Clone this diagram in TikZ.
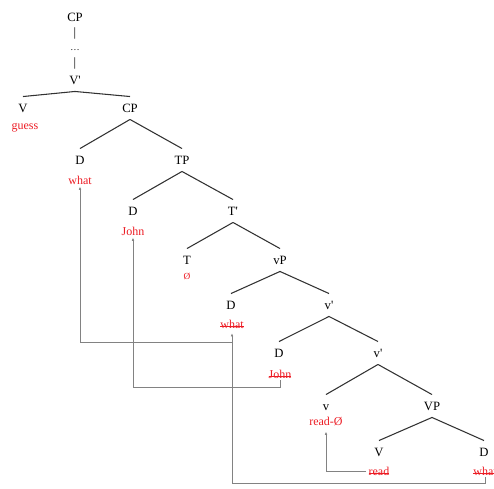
\documentclass[tikz,border=0pt]{standalone}
\usepackage{fontspec}
\setmainfont{Liberation Serif}
\usetikzlibrary{arrows.meta}
\definecolor{wordred}{RGB}{236,28,36}
\definecolor{linegray}{RGB}{50,50,50}
\definecolor{movegray}{RGB}{130,130,130}
\newcommand{\struck}[1]{\setbox0\hbox{#1}\rlap{\raisebox{0.32ex}{\rule{\wd0}{0.5pt}}}\box0}
\tikzstyle{cat}=[inner xsep=1pt,inner ysep=5pt,text height=6.8pt,text depth=0pt,font=\fontsize{9.5}{11}\selectfont]
\tikzstyle{word}=[inner sep=1.5pt,text=wordred,font=\fontsize{9}{11}\selectfont]
\tikzstyle{branch}=[draw,linegray,line width=0.8pt]
\tikzstyle{move}=[draw,movegray,line width=0.6pt,-{Latex[length=2.5pt,width=2pt]}]

\begin{document}
\begin{tikzpicture}[x=0.75pt,y=-0.75pt]
    \useasboundingbox (0,0) rectangle (494,489);
    \foreach \pos/\name/\val in {{(75,17)/cpa/CP},{(75,32)/bara/|},
    {(75,46)/dots/{\scriptsize\ldots}},{(75,62)/barb/|},{(75,80)/vbar/V\textquotesingle},
    {(23,108)/vhead/V},{(130,108)/cpb/CP},{(80,160)/da/D},{(182,160)/tp/TP},
    {(133,211)/db/D},{(233,211)/tbar/T\textquotesingle},{(187,260)/thead/T},{(280,260)/vp/vP},
    {(231,305)/dc/D},{(329,305)/vbara/v\textquotesingle},{(279,353)/dd/D},{(378,353)/vbarb/v\textquotesingle},
    {(326,406)/vlow/v},{(432,406)/vpbig/VP},{(379,452)/vverb/V},{(484,452)/de/D}}
        \node[cat] (\name) at \pos {\val};

    \foreach \pos/\name/\val in {{(25,128)/guess/guess},{(80,180)/whata/what},
    {(133,231)/johna/John},{(187,276)/nulla/{\scriptsize Ø}},
    {(232,324)/whatb/\struck{what}},{(280,374)/johnb/\struck{John}},
    {(326,421)/readb/read-Ø},{(379,471)/reada/\struck{read}},{(485,471)/whatc/\struck{what}}}
        \node[word] (\name) at \pos {\val};

    \foreach \source/\dest in {vbar/vhead,vbar/cpb,cpb/da,cpb/tp,tp/db,tp/tbar,
    tbar/thead,tbar/vp,vp/dc,vp/vbara,vbara/dd,vbara/vbarb,vbarb/vlow,vbarb/vpbig,
    vpbig/vverb,vpbig/de}
        \path[branch] (\source.south) -- (\dest.north);

    \coordinate (wturn) at (232,342);
    \path[move,shorten >=2pt] (whatc.south) -- ++(0,6) -| (whatb.south);
    \path[move] (wturn) -| (whata.south);
    \path[move] (johnb.south) -- ++(0,7) -| (johna.south);
    \path[move,shorten >=3pt] (reada.west) -| (readb.south);
\end{tikzpicture}
\end{document}
